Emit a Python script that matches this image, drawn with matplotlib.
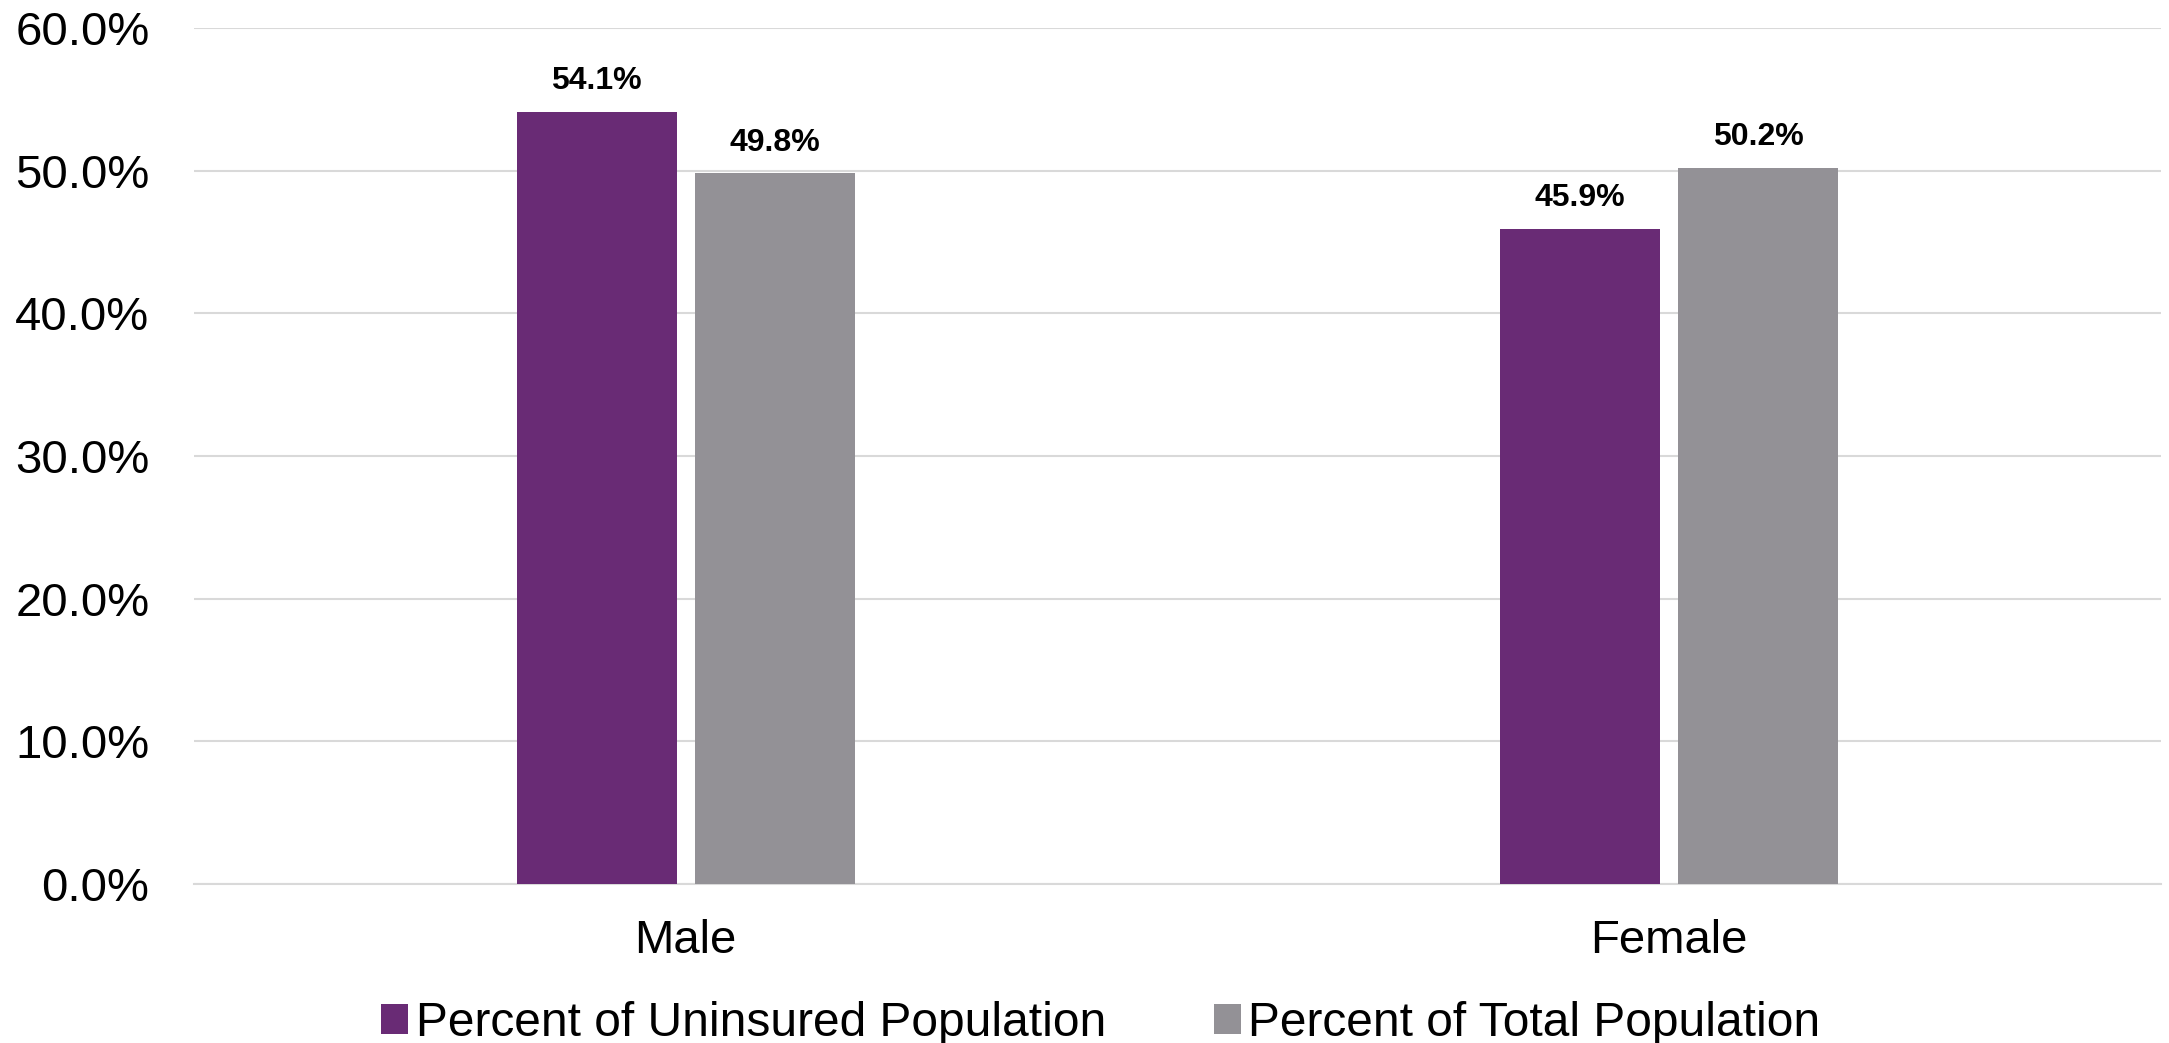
import matplotlib
matplotlib.use("Agg")
import matplotlib.pyplot as plt
import numpy as np

categories = ["Male", "Female"]
uninsured = [54.1, 45.9]
total = [49.8, 50.2]
series_names = ["Percent of Uninsured Population", "Percent of Total Population"]
yticks = [0, 10, 20, 30, 40, 50, 60]

purple = "#692B75"
grey = "#939196"

plt.rcParams["font.family"] = ["Liberation Sans", "DejaVu Sans"]

fig = plt.figure(figsize=(21.69, 10.43), dpi=100)
ax = fig.add_axes([0.0894, 0.1524, 0.9069, 0.8208])

x = np.arange(len(categories))
w = 0.163
off = 0.0905
b1 = ax.bar(x - off, uninsured, w, color=purple, label=series_names[0], zorder=3)
b2 = ax.bar(x + off, total, w, color=grey, label=series_names[1], zorder=3)

for bars in (b1, b2):
    for r in bars:
        ax.annotate(f"{r.get_height():.1f}%",
                    (r.get_x() + r.get_width() / 2, r.get_height()),
                    xytext=(0, 16.5), textcoords="offset points",
                    ha="center", va="baseline", fontsize=23, fontweight="bold")

ax.set_xlim(-0.5, 1.5)
ax.set_ylim(0, 60)
ax.set_yticks(yticks)
ax.set_yticklabels([f"{v:.1f}%" for v in yticks], fontsize=34)
ax.set_xticks(x)
ax.set_xticklabels(categories, fontsize=34)
ax.tick_params(axis="both", length=0)
ax.tick_params(axis="y", pad=32)
ax.tick_params(axis="x", pad=25)
ax.grid(axis="y", color="#d9d9d9", linewidth=1.5, zorder=0)
for s in ["top", "right", "left"]:
    ax.spines[s].set_visible(False)
ax.spines["bottom"].set_color("#d9d9d9")
ax.spines["bottom"].set_linewidth(1.5)

ax.legend(loc="center", bbox_to_anchor=(0.461, -0.163), ncol=2, frameon=False,
          fontsize=34.5, handlelength=0.57, handleheight=0.57, handletextpad=0.15,
          columnspacing=2.25, borderpad=0)

fig.savefig("out.png", dpi=100)
